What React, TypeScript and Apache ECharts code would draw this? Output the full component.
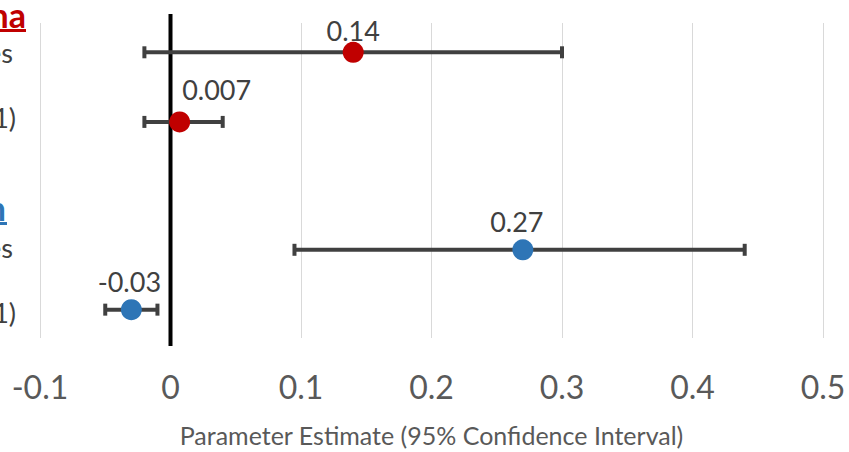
import React, { useEffect, useRef } from "react";
import * as echarts from "echarts";

// ---- data ----
const groupHeaders = ["na", "n"];
const headerColors = ["#C00000", "#2E75B6"];
const rowLabels = ["es", "1)", "es", "1)"];
const estimates = [0.14, 0.007, 0.27, -0.03];
const ciLow = [-0.02, -0.02, 0.095, -0.05];
const ciHigh = [0.3, 0.04, 0.44, -0.01];
const rowY = [0.93, 3.14, 7.2, 9.1];
const pointColors = ["#C00000", "#C00000", "#2E75B6", "#2E75B6"];
const xTicks = [-0.1, 0, 0.1, 0.2, 0.3, 0.4, 0.5];
const axisTitle = "Parameter Estimate (95% Confidence Interval)";

// label nudges (layout only)
const labelOffsets: [number, number][] = [
  [0, 6],
  [37, -4],
  [-6, 0],
  [-2, 0],
];

export default function App() {
  const ref = useRef<HTMLDivElement>(null);

  useEffect(() => {
    if (!ref.current) return;
    const chart = echarts.init(ref.current, undefined, { renderer: "svg" });

    const errData = estimates.map((_, i) => [ciLow[i], ciHigh[i], rowY[i]]);
    const pointData = estimates.map((v, i) => ({
      value: [v, rowY[i]],
      itemStyle: { color: pointColors[i], opacity: 1 },
      label: { offset: labelOffsets[i] },
    }));

    const rowText = (i: number, x: number, y: number) => ({
      type: "text",
      x,
      y,
      style: {
        text: rowLabels[i],
        fill: "#404040",
        font: "27px Lato",
        textAlign: "right",
        textVerticalAlign: "middle",
      },
    });

    const option: any = {
      animation: false,
      backgroundColor: "#ffffff",
      textStyle: { fontFamily: "Lato" },
      grid: { left: 40, right: 26, top: 23, bottom: 107, containLabel: false },
      xAxis: {
        type: "value",
        min: xTicks[0],
        max: xTicks[xTicks.length - 1],
        interval: 0.1,
        axisLine: { show: false },
        axisTick: { show: false },
        splitLine: { show: true, lineStyle: { color: "#d9d9d9", width: 1 } },
        axisLabel: {
          fontFamily: "Lato",
          fontSize: 32,
          color: "#595959",
          margin: 32,
          formatter: (v: number) => {
            const r = Math.round(v * 10) / 10;
            return r === 0 ? "0" : String(r);
          },
        },
        name: axisTitle,
        nameLocation: "middle",
        nameGap: 84,
        nameTextStyle: { fontFamily: "Lato", fontSize: 25, color: "#595959" },
      },
      yAxis: {
        type: "value",
        min: 0,
        max: 10,
        inverse: true,
        show: false,
        splitLine: { show: false },
      },
      series: [
        {
          type: "custom",
          name: "zero",
          clip: false,
          data: [[0]],
          z: 3,
          renderItem: (params: any, api: any) => {
            const cs = params.coordSys;
            const x = api.coord([0, 0])[0];
            return {
              type: "line",
              shape: { x1: x, y1: cs.y - 9, x2: x, y2: cs.y + cs.height + 8 },
              style: { stroke: "#000000", lineWidth: 4 },
            };
          },
        },
        {
          type: "custom",
          name: "ci",
          data: errData,
          z: 4,
          renderItem: (params: any, api: any) => {
            const lo = api.coord([api.value(0), api.value(2)]);
            const hi = api.coord([api.value(1), api.value(2)]);
            const st = { stroke: "#404040", lineWidth: 4 };
            return {
              type: "group",
              children: [
                { type: "line", shape: { x1: lo[0], y1: lo[1], x2: hi[0], y2: hi[1] }, style: st },
                { type: "rect", shape: { x: lo[0] - 2, y: lo[1] - 6, width: 4, height: 12 }, style: { fill: "#404040" } },
                { type: "rect", shape: { x: hi[0] - 2, y: hi[1] - 6, width: 4, height: 12 }, style: { fill: "#404040" } },
              ],
            };
          },
        },
        {
          type: "scatter",
          name: "estimate",
          data: pointData,
          symbol: "circle",
          symbolSize: 21,
          z: 5,
          itemStyle: { opacity: 1 },
          label: {
            show: true,
            position: "top",
            distance: 4,
            fontFamily: "Lato",
            fontSize: 27,
            color: "#404040",
            formatter: (p: any) => String(p.value[0]),
          },
        },
      ],
      graphic: [
        { type: "text", x: 26, y: 14, style: { text: groupHeaders[0], fill: headerColors[0], font: "bold 34px Lato", textAlign: "right", textVerticalAlign: "middle" } },
        { type: "rect", shape: { x: 0, y: 29, width: 26, height: 3 }, style: { fill: headerColors[0] } },
        { type: "text", x: 6, y: 207, style: { text: groupHeaders[1], fill: headerColors[1], font: "bold 34px Lato", textAlign: "right", textVerticalAlign: "middle" } },
        { type: "rect", shape: { x: 0, y: 222, width: 7, height: 3 }, style: { fill: headerColors[1] } },
        rowText(0, 13, 52),
        rowText(1, 16, 117),
        rowText(2, 13, 247),
        rowText(3, 16, 312),
      ],
    };

    chart.setOption(option);
    return () => chart.dispose();
  }, []);

  return (
    <div
      ref={ref}
      style={{ position: "fixed", left: 0, top: 0, width: 849, height: 452 }}
    />
  );
}
